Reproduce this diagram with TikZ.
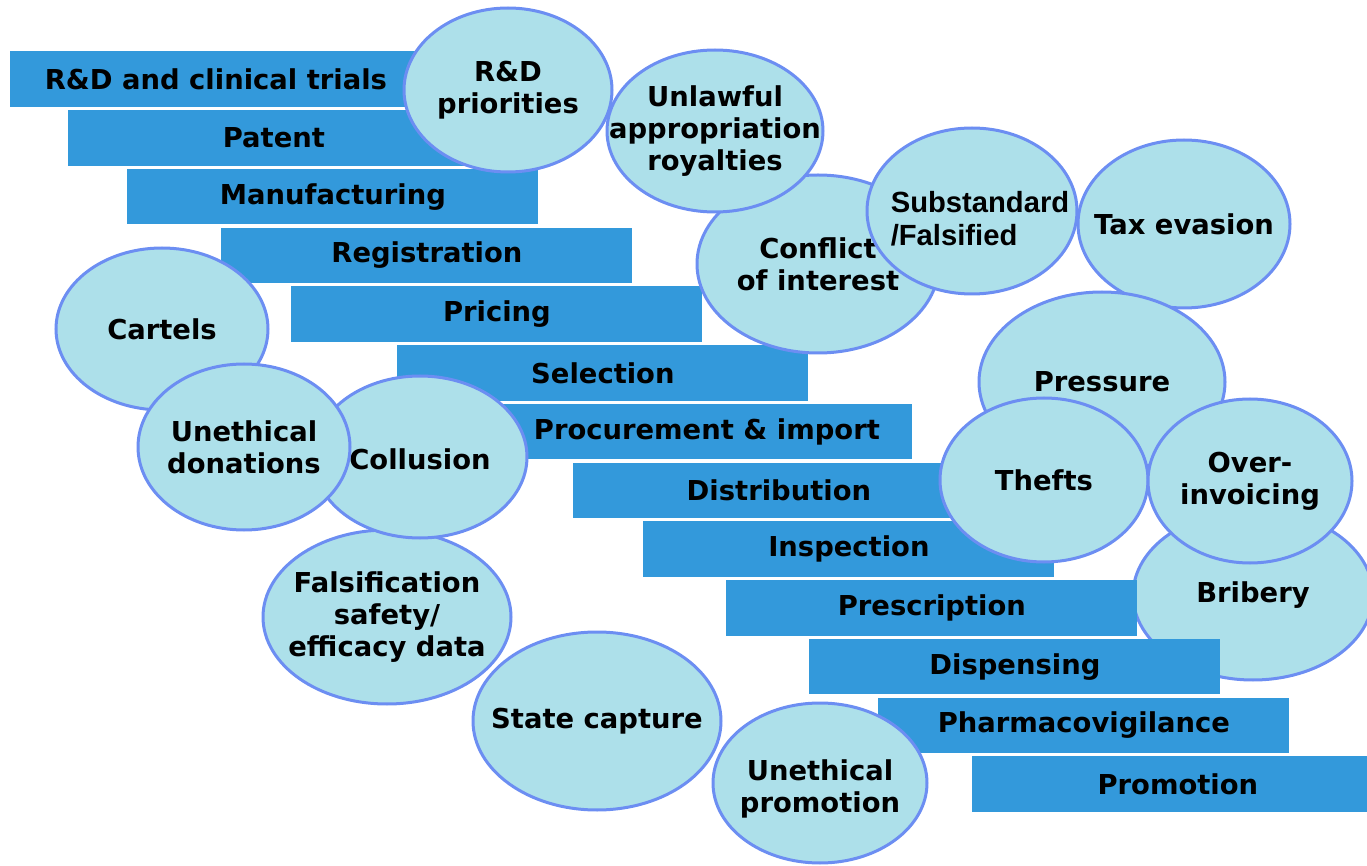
\documentclass[tikz,border=0pt]{standalone}
\usepackage{fontspec}
\setmainfont{DejaVu Sans}
\newfontfamily\arialfont{Liberation Sans}
\usepackage{tikz}
\usetikzlibrary{shapes.geometric}
\definecolor{StageBlue}{RGB}{51,153,219}
\definecolor{RiskFill}{RGB}{173,224,234}
\definecolor{RiskLine}{RGB}{108,142,242}
\tikzset{
  stage/.style={rectangle,fill=StageBlue,anchor=north west,inner sep=0pt,
    minimum width=205.5pt,minimum height=27.75pt,font=\fontsize{13.7}{16}\selectfont\bfseries},
  risk/.style 2 args={ellipse,fill=RiskFill,draw=RiskLine,line width=1.5pt,inner sep=0pt,
    minimum width=#1pt,minimum height=#2pt},
  risktext/.style={align=center,inner sep=0pt,font=\fontsize{13.7}{16}\selectfont\bfseries}
}

\begin{document}
\begin{tikzpicture}[x=0.5pt,y=-0.5pt]
      \useasboundingbox (0,0) rectangle (1367,866);
      % bribery sits behind the stages
      \node[risk={120}{85},label={[risktext]center:Bribery}] (bribery) at (1253,595) {};
      % stages of the medicine chain
      \node[stage] (rd) at (10,51) {R\&D and clinical trials};
      \node[stage] (patent) at (68,109.75) {Patent};
      \node[stage] (manuf) at (127,168.5) {Manufacturing};
      \node[stage] (regist) at (221,227.25) {Registration};
      \node[stage] (pricing) at (291,286) {Pricing};
      \node[stage] (select) at (397,344.75) {Selection};
      \node[stage] (procure) at (501,403.5) {Procurement \& import};
      \node[stage] (distrib) at (573,462.25) {Distribution};
      \node[stage] (inspect) at (643,521) {Inspection};
      \node[stage] (prescr) at (726,579.75) {Prescription};
      \node[stage] (dispens) at (809,638.5) {Dispensing};
      \node[stage] (pharmaco) at (878,697.25) {Pharmacovigilance};
      \node[stage] (promo) at (972,756) {Promotion};
      % risks
      \node[risk={104}{82},label={[risktext]center:R\&D\\priorities}] (rdprio) at (508,90) {};
      \node[risk={121}{89},label={[risktext]center:Conflict\\of interest}] (conflict) at (818,264) {};
      \node[risk={108}{81},label={[risktext]center:Unlawful\\appropriation\\royalties}] (unlawful) at (715,131) {};
      \node[risk={105}{83},label={[risktext,align=left,yshift=-4pt,xshift=4pt,font=\fontsize{14.6}{16.5}\selectfont\arialfont\bfseries]center:Substandard\\/Falsified}] (substd) at (972,211) {};
      \node[risk={106}{84},label={[risktext]center:Tax evasion}] (taxev) at (1184,224) {};
      \node[risk={123}{90},label={[risktext]center:Pressure}] (pressure) at (1102,382) {};
      \node[risk={104}{82},label={[risktext]center:Thefts}] (thefts) at (1044,480) {};
      \node[risk={102}{82},label={[risktext]center:Over-\\invoicing}] (overinv) at (1250,481) {};
      \node[risk={106}{81},label={[risktext]center:Cartels}] (cartels) at (162,329) {};
      \node[risk={124}{87},label={[risktext]center:Falsification\\safety/\\efficacy data}] (falsif) at (387,617) {};
      \node[risk={107}{81},label={[risktext,yshift=-1pt]center:Collusion}] (collusion) at (420,457) {};
      \node[risk={106}{83},label={[risktext]center:Unethical\\donations}] (donat) at (244,447) {};
      \node[risk={124}{89},label={[risktext]center:State capture}] (capture) at (597,721) {};
      \node[risk={107}{80},label={[risktext,yshift=-3pt]center:Unethical\\promotion}] (unpromo) at (820,783) {};
\end{tikzpicture}
\end{document}
